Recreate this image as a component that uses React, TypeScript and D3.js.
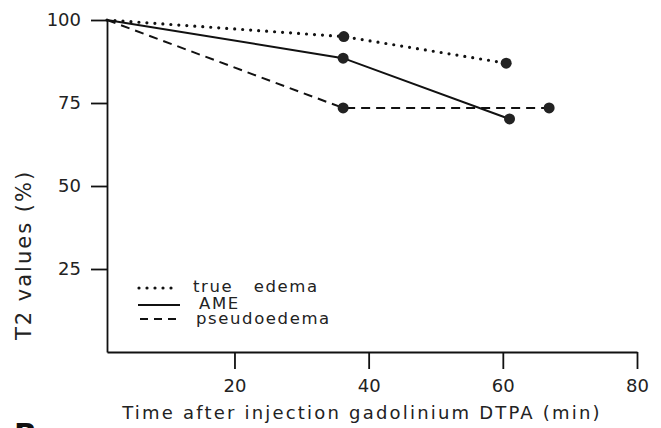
import React, { useEffect, useRef } from "react";
import * as d3 from "d3";

// values (time in min, T2 in % of baseline)
const times = {
  trueEdema: [1, 36.3, 60.5],
  ame: [1, 36.2, 61],
  pseudo: [1, 36.2, 66.9],
};
const trueEdemaValues = [100, 95, 87];
const ameValues = [100, 88.5, 70.2];
const pseudoValues = [100, 73.5, 73.5];

const xTicks = [20, 40, 60, 80];
const yTicks = [25, 50, 75, 100];

const seriesNames = ["true   edema", "AME", "pseudoedema"];

const W = 661;
const H = 428;
const FONT = "'DejaVu Sans', sans-serif";

export default function App() {
  const ref = useRef<SVGSVGElement>(null);

  useEffect(() => {
    const svg = d3.select(ref.current);
    svg.selectAll("*").remove();

    const x = d3.scaleLinear().domain([1, 80]).range([107, 637]);
    const y = d3.scaleLinear().domain([0, 100]).range([352, 20]);

    // y axis
    const ya = svg
      .append("g")
      .attr("transform", `translate(${x(1)},0)`)
      .call(d3.axisLeft(y).tickValues(yTicks).tickSize(16).tickSizeOuter(0).tickPadding(10));
    ya.select(".domain").attr("stroke", "#111").attr("stroke-width", 1.8);
    ya.selectAll(".tick line").attr("stroke", "#111").attr("stroke-width", 1.8);
    ya.selectAll(".tick text")
      .attr("font-family", FONT)
      .attr("font-size", 18)
      .attr("fill", "#222");

    // x axis
    const xa = svg
      .append("g")
      .attr("transform", `translate(0,${y(0)})`)
      .call(d3.axisBottom(x).tickValues(xTicks).tickSize(17).tickSizeOuter(0).tickPadding(10));
    xa.select(".domain").attr("stroke", "#111").attr("stroke-width", 1.8);
    xa.selectAll(".tick line").attr("stroke", "#111").attr("stroke-width", 1.8);
    xa.selectAll(".tick text")
      .attr("font-family", FONT)
      .attr("font-size", 18)
      .attr("fill", "#222");

    // axis titles
    svg
      .append("text")
      .attr("x", 362)
      .attr("y", 419)
      .attr("text-anchor", "middle")
      .attr("font-family", FONT)
      .attr("font-size", 18)
      .attr("letter-spacing", 2.2)
      .attr("fill", "#222")
      .text("Time after injection gadolinium DTPA (min)");

    svg
      .append("text")
      .attr("transform", "translate(31,255) rotate(-90)")
      .attr("text-anchor", "middle")
      .attr("font-family", FONT)
      .attr("font-size", 21)
      .attr("letter-spacing", 2)
      .attr("fill", "#222")
      .text("T2 values (%)");

    const line = d3
      .line<[number, number]>()
      .x((d) => x(d[0]))
      .y((d) => y(d[1]));

    const series = [
      { t: times.trueEdema, v: trueEdemaValues, dash: "0 8", width: 3.2, cap: "round" },
      { t: times.ame, v: ameValues, dash: null, width: 2, cap: "butt" },
      { t: times.pseudo, v: pseudoValues, dash: "9 6", width: 2, cap: "butt" },
    ];

    series.forEach((s) => {
      const pts: [number, number][] = s.t.map((t, i) => [t, s.v[i]]);
      svg
        .append("path")
        .datum(pts)
        .attr("fill", "none")
        .attr("stroke", "#111")
        .attr("stroke-width", s.width)
        .attr("stroke-linecap", s.cap)
        .attr("stroke-dasharray", s.dash)
        .attr("d", line);
      svg
        .selectAll(null)
        .data(pts.slice(1))
        .enter()
        .append("circle")
        .attr("cx", (d) => x(d[0]))
        .attr("cy", (d) => y(d[1]))
        .attr("r", 5.5)
        .attr("fill", "#222");
    });

    // legend
    const legendRows = [
      { sx: 139, ex: 172, ly: 288, tx: 193, ty: 292, dash: "0 8" },
      { sx: 138, ex: 180, ly: 305, tx: 199, ty: 309, dash: null },
      { sx: 140, ex: 176, ly: 319, tx: 196, ty: 324, dash: "8 6" },
    ];
    legendRows.forEach((r, i) => {
      const s = series[i];
      svg
        .append("line")
        .attr("x1", r.sx)
        .attr("x2", r.ex)
        .attr("y1", r.ly)
        .attr("y2", r.ly)
        .attr("stroke", "#111")
        .attr("stroke-width", s.width)
        .attr("stroke-linecap", s.cap)
        .attr("stroke-dasharray", r.dash);
      svg
        .append("text")
        .attr("x", r.tx)
        .attr("y", r.ty)
        .attr("font-family", FONT)
        .attr("font-size", 16.5)
        .attr("letter-spacing", 1.6)
        .attr("fill", "#222")
        .style("white-space", "pre")
        .text(seriesNames[i]);
    });

    // panel letter, cut off at the bottom edge
    svg
      .append("text")
      .attr("x", 14)
      .attr("y", 445)
      .attr("font-family", FONT)
      .attr("font-size", 30)
      .attr("font-weight", "bold")
      .attr("fill", "#111")
      .text("B");
  }, []);

  return (
    <svg
      ref={ref}
      width={W}
      height={H}
      style={{ position: "absolute", left: 0, top: 0, background: "#fff" }}
    />
  );
}
